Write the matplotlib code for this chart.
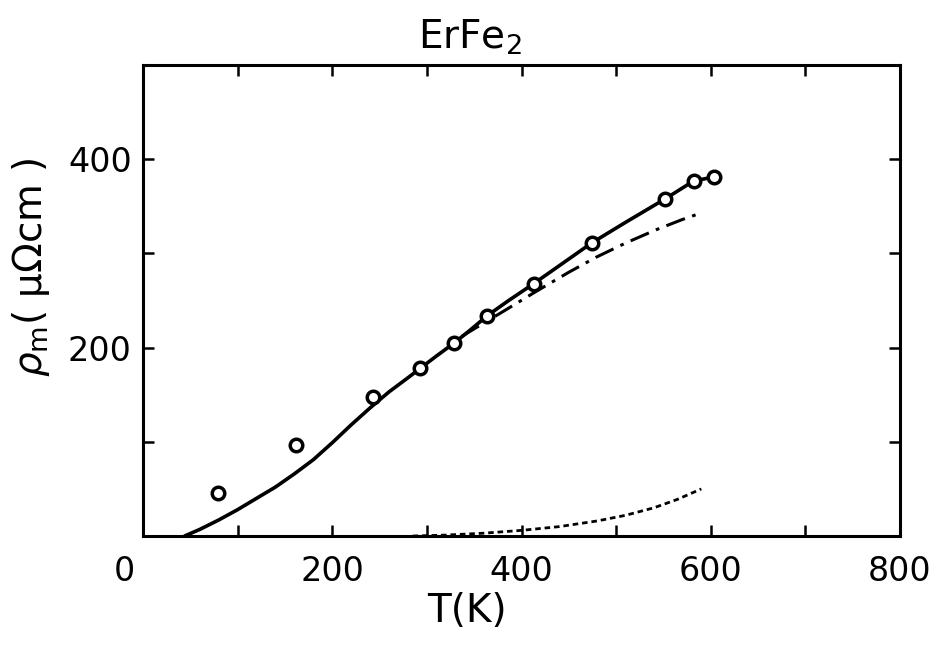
import matplotlib
matplotlib.use('Agg')
import matplotlib.pyplot as plt
import matplotlib.transforms as mtransforms
from matplotlib.ticker import MultipleLocator

# measured points (open circles)
T_pts = [79, 162, 243, 293, 329, 364, 413, 474, 552, 582, 603]
rho_pts = [46, 97, 148, 178, 205, 234, 268, 311, 358, 377, 381]

# calculated total (solid line)
T_calc = [44, 60, 80, 100, 120, 140, 160, 180, 200, 220, 240, 260, 280, 293,
          310, 329, 345, 364, 385, 413, 440, 474, 510, 552, 582, 603]
rho_calc = [0, 7, 17, 28, 40, 52, 66, 81, 99, 118, 136, 153, 168, 178,
            191, 205, 218, 234, 249, 268, 287, 311, 333, 358, 377, 381]

# dash-dot component
T_dd = [337, 360, 380, 416, 450, 479, 510, 542, 570, 590]
rho_dd = [212, 226, 238, 260, 280, 296, 311, 325, 336, 343]

# dotted component
T_dot = [285, 320, 360, 400, 440, 480, 510, 540, 565, 590]
rho_dot = [0, 1, 3, 6, 10, 16, 22, 30, 39, 50]

plt.rcParams['font.family'] = ['DejaVu Sans']

fig = plt.figure(figsize=(9.32, 6.48), dpi=100)
ax = fig.add_axes([0.1534, 0.1728, 0.8123, 0.7269])

ax.plot(T_calc, rho_calc, color='black', lw=2.6, solid_capstyle='round')
ax.plot(T_dd, rho_dd, color='black', lw=2.2, dashes=(6.5, 2.5, 1.2, 2.5))
ax.plot(T_dot, rho_dot, color='black', lw=2.0, dashes=(2.0, 1.4))
ax.plot(T_pts, rho_pts, 'o', ms=9, mfc='white', mec='black', mew=2.5, zorder=5)

ax.set_xlim(0, 800)
ax.set_ylim(0, 500)
ax.set_xticks([0, 200, 400, 600, 800])
ax.xaxis.set_minor_locator(MultipleLocator(100))
ax.set_yticks([200, 400])
ax.set_yticks([100, 300], minor=True)

ax.tick_params(which='both', direction='in', top=True, right=True,
               length=8, width=1.8, labelsize=24)
ax.tick_params(axis='x', pad=14)
ax.tick_params(axis='y', pad=8)
for s in ax.spines.values():
    s.set_linewidth(2.2)

# the "0" label sits left of the axis corner in the original
lbl0 = ax.get_xticklabels()[0]
lbl0.set_transform(lbl0.get_transform() +
                   mtransforms.ScaledTranslation(-0.19, 0, fig.dpi_scale_trans))

ax.set_title('ErFe$_2$', fontsize=28, x=0.432, pad=12)
ax.set_xlabel('T(K)', fontsize=28)
ax.xaxis.set_label_coords(0.428, -0.118)
ax.set_ylabel(r'$\rho_{\rm m}$( μΩcm )', fontsize=28)
ax.yaxis.set_label_coords(-0.12, 0.57)

fig.savefig('out.png', dpi=100)
